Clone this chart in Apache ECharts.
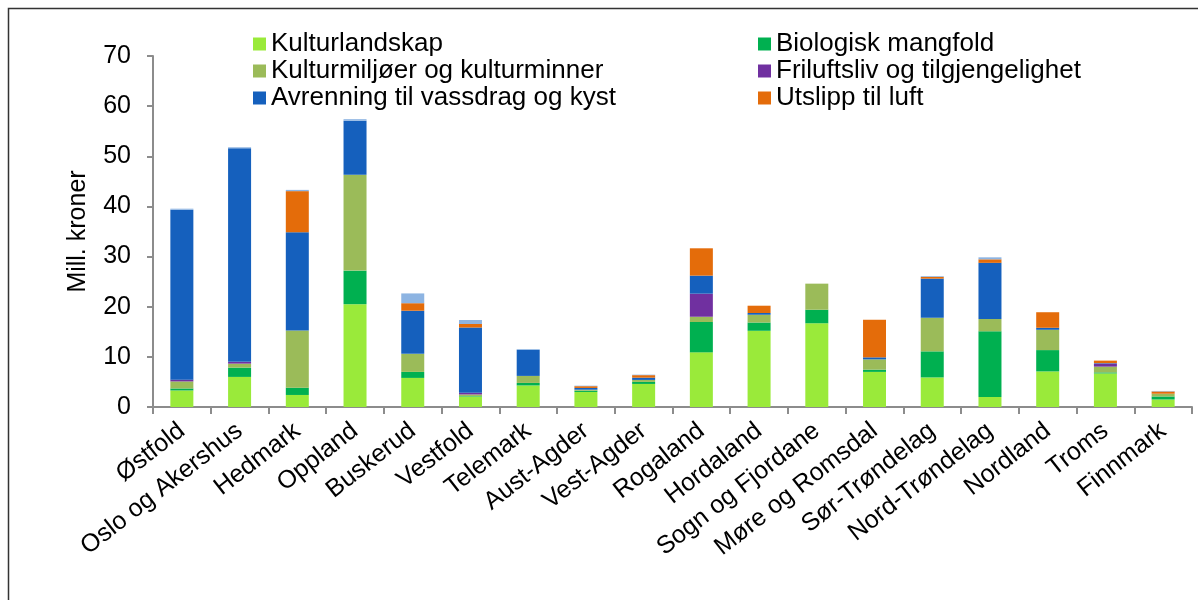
<!DOCTYPE html>
<html>
<head>
<meta charset="utf-8">
<script src="https://cdn.jsdelivr.net/npm/echarts@6/dist/echarts.min.js"></script>
<style>
  html, body { margin: 0; padding: 0; background: #fff; }
  #main { width: 1198px; height: 600px; }
</style>
</head>
<body>
<div id="main"></div>
<script>
// fylker
const categories = ['Østfold', 'Oslo og Akershus', 'Hedmark', 'Oppland', 'Buskerud', 'Vestfold',
  'Telemark', 'Aust-Agder', 'Vest-Agder', 'Rogaland', 'Hordaland', 'Sogn og Fjordane',
  'Møre og Romsdal', 'Sør-Trøndelag', 'Nord-Trøndelag', 'Nordland', 'Troms', 'Finnmark'];

// mill. kroner, lest av figuren
const kulturlandskap = [3.3, 6.0, 2.4, 20.5, 5.8, 2.1, 4.3, 3.0, 4.6, 10.9, 15.2, 16.7, 7.0, 5.9, 2.0, 7.1, 6.7, 1.5];
const biologisk      = [0.4, 1.85, 1.45, 6.7, 1.2, 0.1, 0.5, 0.25, 0.4, 6.05, 1.65, 2.7, 0.45, 5.2, 13.1, 4.25, 0.2, 0.6];
const kulturmiljo    = [1.4, 0.8, 11.4, 19.1, 3.6, 0.3, 1.4, 0.2, 0.4, 1.05, 1.55, 5.2, 2.05, 6.7, 2.45, 4.05, 1.15, 0.55];
const friluftsliv    = [0.35, 0.35, 0, 0, 0, 0.35, 0, 0, 0, 4.6, 0, 0, 0, 0, 0, 0, 0.6, 0];
const avrenning      = [33.9, 42.6, 19.6, 10.8, 8.6, 13.0, 5.2, 0.35, 0.45, 3.6, 0.35, 0, 0.4, 7.8, 11.2, 0.4, 0.1, 0];
const utslipp        = [0, 0, 8.2, 0, 1.5, 0.7, 0, 0.35, 0.5, 5.45, 1.45, 0, 7.5, 0.35, 0.7, 3.1, 0.5, 0.45];
const annet          = [0.2, 0.2, 0.25, 0.3, 1.95, 0.8, 0.15, 0.1, 0.1, 0, 0, 0, 0, 0.15, 0.4, 0, 0, 0.1];

const yTicks = { min: 0, max: 70, interval: 10 };

const names = ['Kulturlandskap', 'Biologisk mangfold', 'Kulturmiljøer og kulturminner',
  'Friluftsliv og tilgjengelighet', 'Avrenning til vassdrag og kyst', 'Utslipp til luft', 'Annet'];
const colors = ['#9aea3a', '#00b050', '#9bbb59', '#7030a0', '#1560bd', '#e46c0a', '#8db4e2'];
const values = [kulturlandskap, biologisk, kulturmiljo, friluftsliv, avrenning, utslipp, annet];

const font = 'Liberation Sans, Arial, sans-serif';

let myChart = echarts.init(document.getElementById('main'));

const legendBase = {
  orient: 'vertical',
  top: 26,
  itemWidth: 13,
  itemHeight: 13,
  itemGap: 1,
  icon: 'rect',
  selectedMode: false,
  textStyle: { fontFamily: font, fontSize: 26, color: '#000', lineHeight: 26, padding: [0, 0, 0, 0] }
};

const option = {
  animation: false,
  backgroundColor: '#fff',
  textStyle: { fontFamily: font },
  graphic: [{
    type: 'rect',
    shape: { x: 8.5, y: 8.5, width: 1200, height: 600 },
    style: { fill: 'none', stroke: '#333', lineWidth: 1.5 },
    silent: true
  }],
  legend: [
    Object.assign({}, legendBase, { left: 248, data: [names[0], names[2], names[4]] }),
    Object.assign({}, legendBase, { left: 753, data: [names[1], names[3], names[5]] })
  ],
  grid: { left: 153, right: 6, top: 56, bottom: 193, containLabel: false },
  xAxis: {
    type: 'category',
    data: categories,
    axisLine: { lineStyle: { color: '#8c8c8c', width: 2 } },
    axisTick: { show: true, length: 7, lineStyle: { color: '#8c8c8c', width: 2 } },
    axisLabel: { rotate: 38, margin: 21, fontSize: 25, color: '#000', fontFamily: font, interval: 0 }
  },
  yAxis: {
    type: 'value',
    min: yTicks.min,
    max: yTicks.max,
    interval: yTicks.interval,
    name: 'Mill. kroner',
    nameLocation: 'middle',
    nameGap: 62,
    nameTextStyle: { fontSize: 25, color: '#000', fontFamily: font },
    splitLine: { show: false },
    axisLine: { show: true, lineStyle: { color: '#8c8c8c', width: 2 } },
    axisTick: { show: true, length: 6, lineStyle: { color: '#8c8c8c', width: 2 } },
    axisLabel: { fontSize: 25, color: '#000', margin: 22, fontFamily: font }
  },
  series: values.map((v, i) => ({
    name: names[i],
    type: 'bar',
    stack: 'sum',
    barWidth: 23,
    data: v,
    itemStyle: { color: colors[i] }
  }))
};

myChart.setOption(option);
</script>
</body>
</html>
